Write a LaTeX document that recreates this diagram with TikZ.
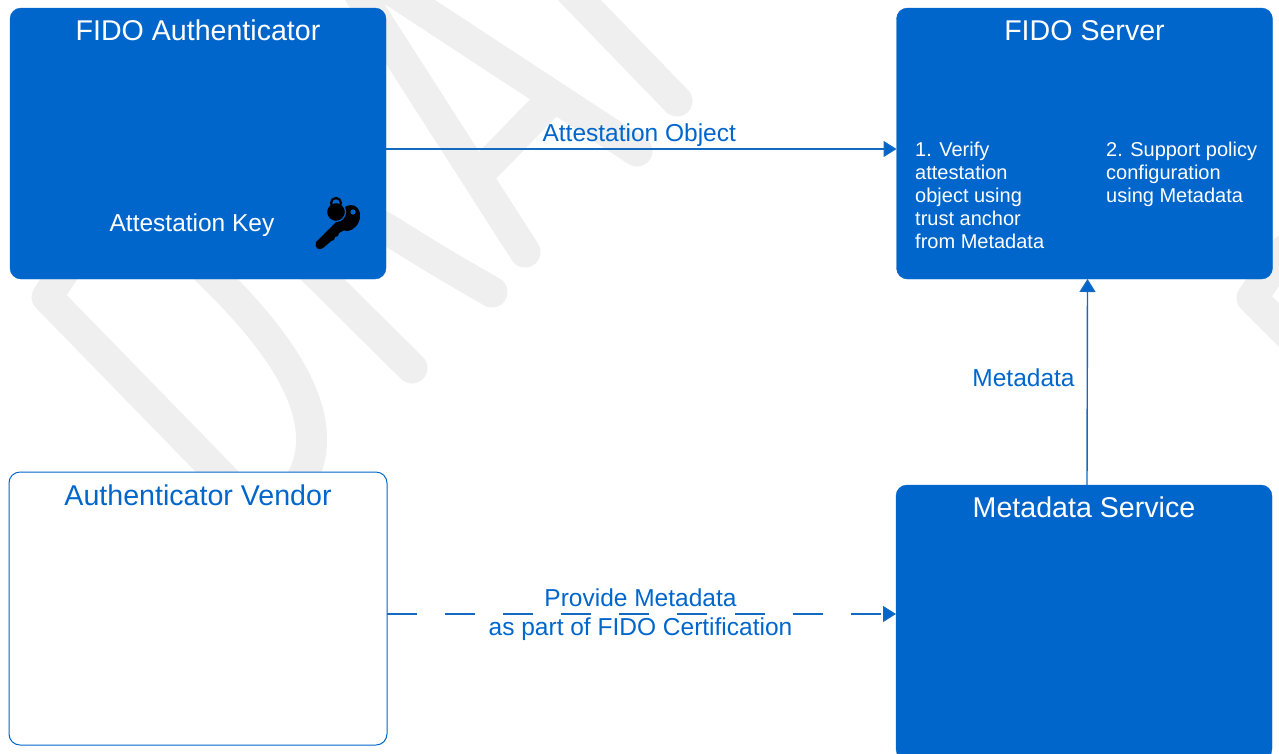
\documentclass[tikz,border=0pt]{standalone}
\usepackage{fontspec}
\setmainfont{Liberation Sans}
\usetikzlibrary{arrows.meta}
\definecolor{fidoblue}{HTML}{0066CC}
\definecolor{wmgray}{HTML}{EFEFEF}
\tikzset{
  fidobox/.style={draw=fidoblue, fill=fidoblue, rounded corners=11pt, inner sep=0pt, outer sep=0pt, minimum width=376pt, minimum height=271pt},
  vendorbox/.style={fidobox, fill=white, line width=1pt, minimum width=378pt, minimum height=273pt},
  boxtitle/.style={anchor=base, inner sep=0pt, font=\fontsize{28.6}{33}\selectfont},
  boxnote/.style={anchor=north west, inner sep=0pt, align=left, text=white, font=\fontsize{20}{23.2}\selectfont},
  flowlabel/.style={text=fidoblue, inner sep=0pt, align=center, font=\fontsize{24.5}{29}\selectfont},
  flow/.style={draw=fidoblue!85!gray, line width=1.4pt, -{Triangle[length=13pt,width=16pt,fill=fidoblue]}},
  wmark/.style={draw=wmgray, line width=31pt, line cap=round, line join=round},
}
\begin{document}
\begin{tikzpicture}[x=1pt,y=-1pt]
  \useasboundingbox (0,0) rectangle (1279,753);
  \clip (0,0) rectangle (1279,753);
  % watermark
  \draw[wmark] (70,262) -- (47,297) -- (235,490);
  \draw[wmark] (170,235) .. controls (216,280) and (360,400) .. (295,490);
  \draw[wmark] (300,257) -- (412,368);
  \draw[wmark] (340,205) .. controls (370,215) and (400,240) .. (492,292);
  \draw[wmark] (332,-49) -- (525,252);
  \draw[wmark] (332,-49) -- (637,151);
  \draw[wmark] (478,175) -- (553,98);
  \draw[wmark] (560,-20) -- (677,101);
  \draw[wmark] (1285,250) -- (1252,298) -- (1310,356);
  % boxes
  \node[fidobox] (authr) at (198,143.5) {};
  \node[fidobox] (srv) at (1084.5,143.5) {};
  \node[vendorbox] (vendor) at (198,608.5) {};
  \node[fidobox, minimum height=275pt] (meta) at (1084,622.5) {};
  \node[boxtitle, text=white] (authrtitle) at ([yshift=-32pt]authr.north) {FIDO Authenticator};
  \node[boxtitle, text=white] (srvtitle) at ([yshift=-32pt]srv.north) {FIDO Server};
  \node[boxtitle, text=fidoblue] (vendortitle) at ([yshift=-33pt]vendor.north) {Authenticator Vendor};
  \node[boxtitle, text=white] (metatitle) at ([yshift=-32pt]meta.north) {Metadata Service};
  \node[anchor=base, inner sep=0pt, text=white, font=\fontsize{24.5}{29}\selectfont] (attkey) at (192,231) {Attestation Key};
  \node[boxnote] (verify) at (915,141.5) {1. Verify\\attestation\\object using\\trust anchor\\from Metadata};
  \node[boxnote] (policy) at (1106,141.5) {2. Support policy\\configuration\\using Metadata};
  % key icon
  \fill[black] (349,218) ellipse[x radius=10.5pt, y radius=13.5pt, rotate=-25];
  \fill[black] (352,226) -- (340,218) -- (316,242) .. controls (314,248) and (319,251) .. (323,248) -- (329,243) -- (331,241) -- (334,240) -- (335,237) -- (338,236) -- (339,233) -- cycle;
  \fill[fidoblue] (353,212) circle (2.6pt);
  \fill[black, draw=fidoblue, line width=1.2pt] (336,212) circle (9.5pt);
  \draw[black, line width=2.2pt] (336,203) circle (5pt);
  % connectors
  \draw[flow] ([yshift=-5.5pt]authr.east) -- ([yshift=-5.5pt]srv.west)
    node[midway, above=2pt, flowlabel, xshift=-2pt] (attobj) {Attestation Object};
  \draw[flow] ([xshift=3pt]meta.north) -- ([xshift=3pt]srv.south)
    node[pos=0.52, left=12pt, flowlabel] (mdlabel) {Metadata};
  \draw[flow, dash pattern=on 30pt off 28pt] ([yshift=-5.5pt]vendor.east) -- ([yshift=8.5pt]meta.west)
    node[midway, flowlabel, yshift=-1pt, xshift=-1pt] (certlabel) {Provide Metadata\\as part of FIDO Certification};
\end{tikzpicture}
\end{document}
